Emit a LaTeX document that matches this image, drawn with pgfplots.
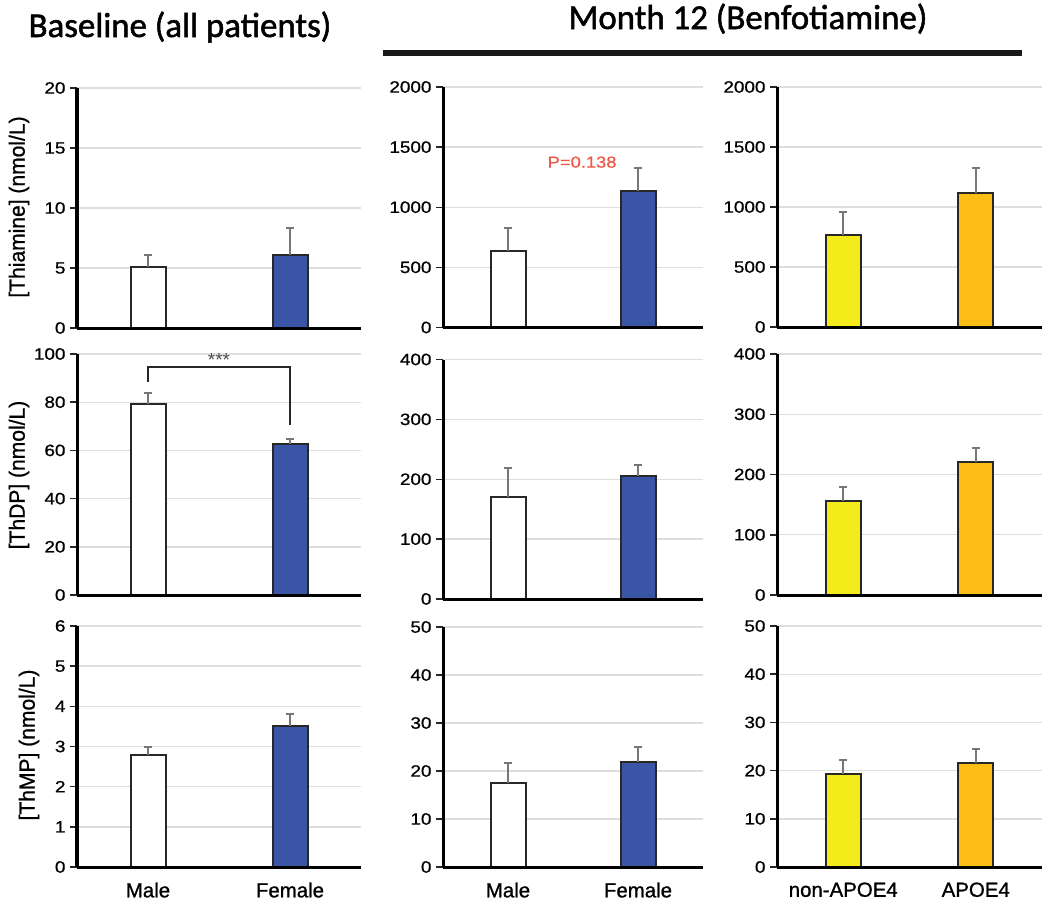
\documentclass[border=0pt]{standalone}
\usepackage{pgfplots}
\pgfplotsset{compat=1.18}
\usepackage{fontspec}
\setmainfont{Liberation Sans}
\newfontfamily\tickfont{Liberation Sans}[FakeStretch=1.15, FakeBold=0.8]
\newfontfamily\xfont{Liberation Sans}[FakeBold=1.0]
\newfontfamily\labfont{Liberation Sans}[FakeStretch=0.96, FakeBold=0.8]
\newfontfamily\titlefont{Carlito}[FakeBold=1.5]

\definecolor{barblue}{RGB}{58,85,165}
\definecolor{baryellow}{RGB}{243,236,26}
\definecolor{barorange}{RGB}{252,190,20}
\definecolor{errgray}{RGB}{118,118,118}
\definecolor{gridgray}{RGB}{222,222,222}
\definecolor{pred}{RGB}{238,88,72}
\definecolor{edge}{RGB}{40,40,40}

\pgfplotsset{
  panel/.style={
    scale only axis, anchor=north west,
    xmin=0, xmax=2, ymin=0,
    axis x line*=bottom, axis y line*=left,
    axis line style={line width=3bp, black, -},
    ymajorgrids, grid style={gridgray, line width=1.4bp},
    xtick=\empty,
    ytick style={line width=1.5bp, black!85},
    x tick style={draw=none},
    tick align=outside, major tick length=7bp,
    /pgf/number format/assume math mode=true,
    /pgf/number format/1000 sep={},
    yticklabel style={font=\tickfont\fontsize{16.5}{16.5}\selectfont, xshift=-1bp},
    xticklabel style={font=\xfont\fontsize{20.5}{20.5}\selectfont, yshift=-5bp},
    clip=false,
  },
  bars/.style={ybar, bar width=35bp, bar shift=0pt, draw=edge, line width=2bp,
    error bars/y dir=plus, error bars/y explicit,
    error bars/error bar style={errgray, line width=2bp},
    error bars/error mark options={errgray, line width=2bp, mark size=4bp, rotate=90}},
}
\newcommand\baseaxis{\draw[line width=3bp, black] (rel axis cs:0,0) -- (rel axis cs:1,0);}

\begin{document}
\begin{tikzpicture}
\useasboundingbox (0,0) rectangle (1050bp,-904bp);

% Titles
\node[font=\titlefont\fontsize{35}{35}\selectfont, anchor=base] at (180bp,-37bp) {Baseline (all patients)};
\node[font=\titlefont\fontsize{35}{35}\selectfont, anchor=base] at (748bp,-29bp) {Month 12 (Benfotiamine)};
\draw[line width=6bp, black!90] (383bp,-53bp) -- (1022bp,-53bp);

% Y labels
\node[rotate=90, font=\labfont\fontsize{22}{22}\selectfont] at (19bp,-207bp) {[Thiamine] (nmol/L)};
\node[rotate=90, font=\labfont\fontsize{22}{22}\selectfont] at (19bp,-475bp) {[ThDP] (nmol/L)};
\node[rotate=90, font=\labfont\fontsize{22}{22}\selectfont] at (29bp,-745bp) {[ThMP] (nmol/L)};

% ---------- Row 1 ----------
\begin{axis}[panel, at={(77bp,-88bp)}, width=284bp, height=240bp, ymax=20, ytick={0,5,...,20}]
\addplot[bars, fill=white] coordinates {(0.5,5.1) +- (0,0.95)};
\addplot[bars, fill=barblue] coordinates {(1.5,6.05) +- (0,2.25)};
\baseaxis
\end{axis}

\begin{axis}[panel, at={(443bp,-87bp)}, width=260bp, height=240.5bp, ymax=2000, ytick={0,500,...,2000}]
\addplot[bars, fill=white] coordinates {(0.5,640) +- (0,190)};
\addplot[bars, fill=barblue] coordinates {(1.5,1135) +- (0,188)};
\node[text=pred, font=\tickfont\fontsize{16}{16}\selectfont] at (axis cs:1.07,1375) {P=0.138};
\baseaxis
\end{axis}

\begin{axis}[panel, at={(777bp,-87bp)}, width=265bp, height=240bp, ymax=2000, ytick={0,500,...,2000}]
\addplot[bars, fill=baryellow] coordinates {(0.5,767) +- (0,194)};
\addplot[bars, fill=barorange] coordinates {(1.5,1119) +- (0,203)};
\baseaxis
\end{axis}

% ---------- Row 2 ----------
\begin{axis}[panel, at={(77bp,-354bp)}, width=284bp, height=241bp, ymax=100, ytick={0,20,...,100}]
\addplot[bars, fill=white] coordinates {(0.5,79.3) +- (0,4.4)};
\addplot[bars, fill=barblue] coordinates {(1.5,62.7) +- (0,1.9)};
\draw[edge, line width=1.6bp] (axis cs:0.5,88.4) -- (axis cs:0.5,94.6) -- (axis cs:1.5,94.6) -- (axis cs:1.5,70.5);
\node[text=black!70, font=\fontsize{19}{19}\selectfont] at (axis cs:1.0,97.6) {***};
\baseaxis
\end{axis}

\begin{axis}[panel, at={(443bp,-359.5bp)}, width=260bp, height=239.5bp, ymax=400, ytick={0,100,...,400}]
\addplot[bars, fill=white] coordinates {(0.5,171) +- (0,47)};
\addplot[bars, fill=barblue] coordinates {(1.5,205) +- (0,18)};
\baseaxis
\end{axis}

\begin{axis}[panel, at={(777bp,-354bp)}, width=265bp, height=241bp, ymax=400, ytick={0,100,...,400}]
\addplot[bars, fill=baryellow] coordinates {(0.5,156.5) +- (0,23.5)};
\addplot[bars, fill=barorange] coordinates {(1.5,220) +- (0,23.5)};
\baseaxis
\end{axis}

% ---------- Row 3 ----------
\begin{axis}[panel, at={(77bp,-626bp)}, width=284bp, height=241bp, ymax=6, ytick={0,1,...,6},
  xtick={0.5,1.5}, xticklabels={Male,Female}]
\addplot[bars, fill=white] coordinates {(0.5,2.78) +- (0,0.21)};
\addplot[bars, fill=barblue] coordinates {(1.5,3.50) +- (0,0.30)};
\baseaxis
\end{axis}

\begin{axis}[panel, at={(443bp,-627bp)}, width=260bp, height=240bp, ymax=50, ytick={0,10,...,50},
  xtick={0.5,1.5}, xticklabels={Male,Female}]
\addplot[bars, fill=white] coordinates {(0.5,17.6) +- (0,4.1)};
\addplot[bars, fill=barblue] coordinates {(1.5,21.9) +- (0,3.0)};
\baseaxis
\end{axis}

\begin{axis}[panel, at={(777bp,-626bp)}, width=265bp, height=241bp, ymax=50, ytick={0,10,...,50},
  xtick={0.5,1.5}, xticklabels={non-APOE4,APOE4}]
\addplot[bars, fill=baryellow] coordinates {(0.5,19.2) +- (0,3.0)};
\addplot[bars, fill=barorange] coordinates {(1.5,21.6) +- (0,2.9)};
\baseaxis
\end{axis}
\end{tikzpicture}
\end{document}
